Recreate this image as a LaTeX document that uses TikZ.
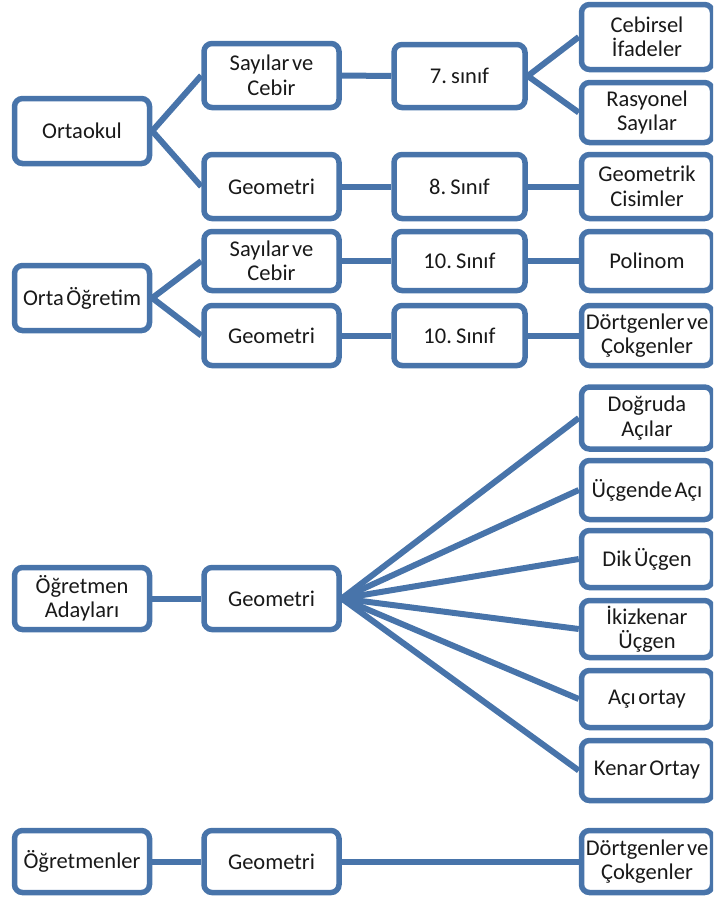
\documentclass[tikz,border=0pt]{standalone}
\usepackage{fontspec}
\setmainfont{Carlito}[WordSpace=0.5]
\usetikzlibrary{positioning}
\definecolor{bc}{RGB}{72,116,170}
\definecolor{tc}{RGB}{25,25,25}
\pgfdeclarelayer{bg}
\pgfsetlayers{bg,main}
\tikzset{
  box/.style={draw=bc, line width=5.5pt, rounded corners=8pt, fill=white,
    text=tc, align=center, inner sep=0pt, minimum width=135pt, minimum height=63pt,
    font=\fontsize{22.5}{24.5}\selectfont},
  narrowbox/.style={box, minimum width=131pt},
  link/.style={draw=bc, line width=6pt}
}
\begin{document}
\begin{tikzpicture}[x=1pt,y=-1pt]
\useasboundingbox (0,0) rectangle (713,900);
\clip (0,0) rectangle (713,900);
% Ortaokul section
\node[box, minimum height=65pt] (ortaokul) at (82,131) {Ortaokul};
\node[box, minimum height=64pt] (sc1) at (271.5,75.5) {Sayılar ve\\Cebir};
\node[box, minimum height=64pt] (geo1) at (271.5,186.5) {Geometri};
\node[narrowbox, minimum height=63pt] (s7) at (459.5,76) {7. sınıf};
\node[narrowbox, minimum height=64pt] (s8) at (459.5,186.5) {8. Sınıf};
\node[narrowbox, minimum height=65pt] (cebirsel) at (647,37) {Cebirsel\\İfadeler};
\node[narrowbox, minimum height=60pt] (rasyonel) at (647,112.5) {Rasyonel\\Sayılar};
\node[narrowbox, minimum height=64pt] (geocis) at (647,186.5) {Geometrik\\Cisimler};
% Orta Ogretim section
\node[box, minimum height=65pt] (orta) at (82,298) {Orta Öğretim};
\node[box, minimum height=59pt] (sc2) at (271.5,261) {Sayılar ve\\Cebir};
\node[box, minimum height=60pt] (geo2) at (271.5,335.5) {Geometri};
\node[narrowbox, minimum height=59pt] (s10a) at (459.5,261) {10. Sınıf};
\node[narrowbox, minimum height=60pt] (s10b) at (459.5,335.5) {10. Sınıf};
\node[narrowbox, minimum height=59pt] (polinom) at (647,261) {Polinom};
\node[narrowbox, minimum height=60pt] (dortgen1) at (647,335.5) {Dörtgenler ve\\Çokgenler};
% Ogretmen Adaylari section
\node[box, minimum height=62pt] (aday) at (82,598.5) {Öğretmen\\Adayları};
\node[box, minimum height=62pt] (geo3) at (271.5,598.5) {Geometri};
\node[narrowbox, minimum height=62pt] (dogru) at (647,418) {Doğruda\\Açılar};
\node[narrowbox, minimum height=59pt] (ucgende) at (647,490) {Üçgende Açı};
\node[narrowbox, minimum height=57pt] (dik) at (647,559) {Dik Üçgen};
\node[narrowbox, minimum height=57pt] (ikiz) at (647,629) {İkizkenar\\Üçgen};
\node[narrowbox, minimum height=57pt] (aciortay) at (647,699) {Açı ortay};
\node[narrowbox, minimum height=60pt] (kenar) at (647,770.5) {Kenar Ortay};
% Ogretmenler section
\node[box, minimum height=62pt] (ogretmen) at (82,861.5) {Öğretmenler};
\node[box, minimum height=62pt] (geo4) at (271.5,861.5) {Geometri};
\node[narrowbox, minimum height=62pt] (dortgen2) at (647,861.5) {Dörtgenler ve\\Çokgenler};
\begin{pgfonlayer}{bg}
\draw[link] (ortaokul.east) -- (sc1.west);
\draw[link] (ortaokul.east) -- (geo1.west);
\draw[link] (sc1.east) -- (s7.west);
\draw[link] (geo1.east) -- (s8.west);
\draw[link] (s7.east) -- (cebirsel.west);
\draw[link] (s7.east) -- (rasyonel.west);
\draw[link] (s8.east) -- (geocis.west);
\draw[link] (orta.east) -- (sc2.west);
\draw[link] (orta.east) -- (geo2.west);
\draw[link] (sc2.east) -- (s10a.west);
\draw[link] (geo2.east) -- (s10b.west);
\draw[link] (s10a.east) -- (polinom.west);
\draw[link] (s10b.east) -- (dortgen1.west);
\draw[link] (aday.east) -- (geo3.west);
\foreach \t in {dogru,ucgende,dik,ikiz,aciortay,kenar}
  \draw[link] (geo3.east) -- (\t.west);
\draw[link] (ogretmen.east) -- (geo4.west);
\draw[link] (geo4.east) -- (dortgen2.west);
\end{pgfonlayer}
\end{tikzpicture}
\end{document}
